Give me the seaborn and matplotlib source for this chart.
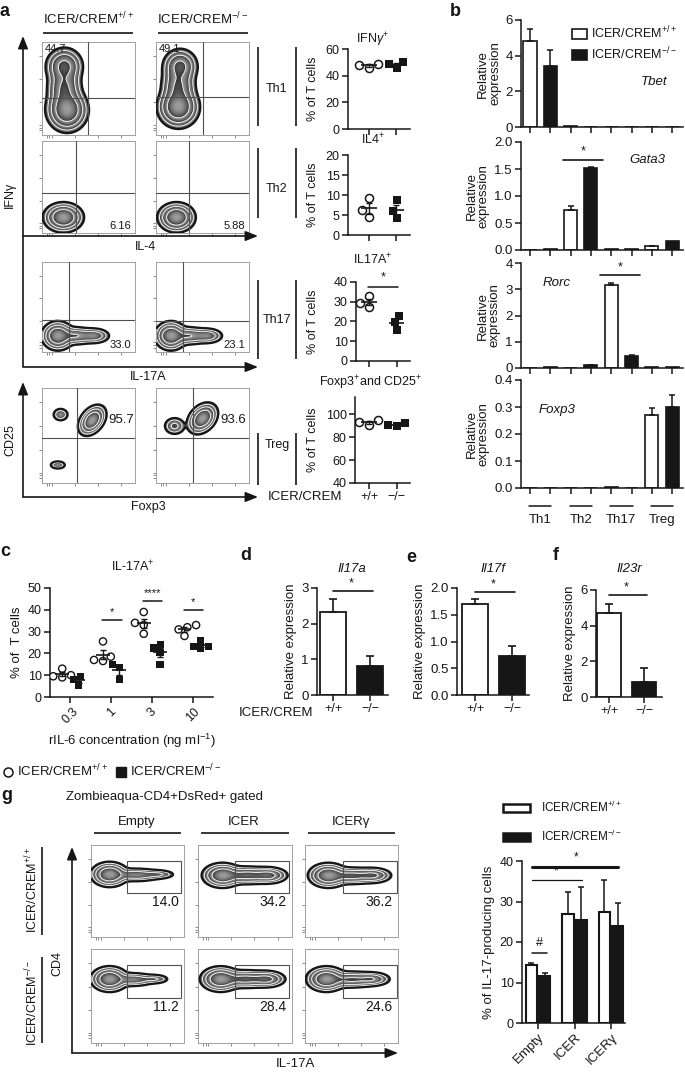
import numpy as np
import pandas as pd
import matplotlib
matplotlib.use("Agg")
import matplotlib.pyplot as plt
import seaborn as sns
from matplotlib.lines import Line2D
from matplotlib.patches import FancyArrowPatch, Rectangle, Patch

# ======================= DATA =======================
genotypes = ["+/+", "\u2212/\u2212"]

# panel a: dot plots (% of T cells)
a_ifng_wt = [48, 46, 49]
a_ifng_ko = [49, 46, 50]
a_il4_wt = [9.2, 6.2, 4.5]
a_il4_ko = [8.7, 6.0, 4.2]
a_il17_wt = [33, 27.5, 29.5]
a_il17_ko = [23, 15.5, 19.5]
a_treg_wt = [95, 93, 91]
a_treg_ko = [92, 90, 91]

# panel a: flow populations (cx, cy, sx, sy, weight, angle) in plot fractions
a_th1_wt = [(0.27, 0.27, 0.085, 0.09, 1.0, 0), (0.24, 0.50, 0.075, 0.11, 0.45, 0), (0.24, 0.74, 0.08, 0.08, 0.5, 0)]
a_th1_ko = [(0.24, 0.30, 0.085, 0.085, 1.0, 0), (0.24, 0.52, 0.075, 0.11, 0.45, 0), (0.26, 0.74, 0.075, 0.075, 0.5, 0)]
a_th2_wt = [(0.23, 0.17, 0.08, 0.06, 1.0, 0)]
a_th2_ko = [(0.22, 0.17, 0.075, 0.06, 1.0, 0)]
a_th17_wt = [(0.17, 0.18, 0.065, 0.06, 1.0, 0), (0.36, 0.18, 0.09, 0.04, 0.4, 0), (0.56, 0.18, 0.07, 0.035, 0.3, 0)]
a_th17_ko = [(0.16, 0.18, 0.065, 0.06, 1.0, 0), (0.35, 0.18, 0.09, 0.04, 0.4, 0), (0.55, 0.18, 0.07, 0.035, 0.3, 0)]
a_treg_wt_pop = [(0.54, 0.66, 0.068, 0.045, 1.0, 50), (0.20, 0.72, 0.04, 0.032, 0.12, 0), (0.17, 0.19, 0.04, 0.02, 0.12, 0)]
a_treg_ko_pop = [(0.50, 0.68, 0.07, 0.05, 1.0, 45), (0.20, 0.60, 0.05, 0.04, 0.18, 0)]
a_flow_numbers = ["44.7", "49.1", "6.16", "5.88", "33.0", "23.1", "95.7", "93.6"]

# panel b: relative expression
b_cells = ["Th1", "Th2", "Th17", "Treg"]
b_genes = ["Tbet", "Gata3", "Rorc", "Foxp3"]
b_tbet_wt, b_tbet_ko = [4.8, 0.05, 0.0, 0.0], [3.4, 0.02, 0.0, 0.0]
b_tbet_wt_err, b_tbet_ko_err = [0.7, 0, 0, 0], [0.9, 0, 0, 0]
b_gata3_wt, b_gata3_ko = [0.0, 0.75, 0.01, 0.07], [0.01, 1.52, 0.02, 0.17]
b_gata3_wt_err, b_gata3_ko_err = [0, 0.07, 0, 0.01], [0, 0.01, 0, 0]
b_rorc_wt, b_rorc_ko = [0.0, 0.0, 3.15, 0.05], [0.03, 0.1, 0.47, 0.05]
b_rorc_wt_err, b_rorc_ko_err = [0, 0, 0.1, 0], [0, 0.01, 0.03, 0]
b_foxp3_wt, b_foxp3_ko = [0.0, 0.0, 0.005, 0.27], [0.0, 0.0, 0.0, 0.30]
b_foxp3_wt_err, b_foxp3_ko_err = [0, 0, 0, 0.025], [0, 0, 0, 0.045]

# panel c
c_conc = ["0.3", "1", "3", "10"]
c_wt = [[10, 9, 9.5, 13], [25.5, 17, 18.5, 16.5], [39, 33, 29, 34], [33, 28, 31, 32]]
c_ko = [[9.5, 5.5, 8], [15, 8, 13.5], [24, 15, 20.5, 22.5], [26, 23, 22.5, 23]]
c_sig = ["*", "****", "*"]

# panels d, e, f
d_vals, d_errs = [2.33, 0.8], [0.35, 0.3]
e_vals, e_errs = [1.71, 0.73], [0.09, 0.18]
f_vals, f_errs = [4.7, 0.85], [0.5, 0.75]

# panel g flow
g_cols = ["Empty", "ICER", "ICER\u03b3"]
g_wt_pops = [
    [(0.20, 0.68, 0.075, 0.05, 1.0, 0), (0.48, 0.675, 0.12, 0.03, 0.3, 0), (0.72, 0.68, 0.08, 0.022, 0.15, 0)],
    [(0.26, 0.67, 0.08, 0.05, 1.0, 0), (0.52, 0.67, 0.12, 0.038, 0.6, 0), (0.75, 0.67, 0.08, 0.035, 0.55, 0)],
    [(0.25, 0.67, 0.08, 0.05, 1.0, 0), (0.50, 0.665, 0.12, 0.036, 0.55, 0), (0.73, 0.67, 0.08, 0.033, 0.45, 0)],
]
g_ko_pops = [
    [(0.20, 0.68, 0.075, 0.05, 1.0, 0), (0.45, 0.675, 0.10, 0.03, 0.3, 0), (0.68, 0.68, 0.07, 0.022, 0.15, 0)],
    [(0.24, 0.68, 0.08, 0.05, 1.0, 0), (0.50, 0.68, 0.12, 0.038, 0.55, 0), (0.73, 0.68, 0.08, 0.035, 0.5, 0)],
    [(0.23, 0.68, 0.08, 0.05, 1.0, 0), (0.50, 0.675, 0.12, 0.035, 0.45, 0), (0.72, 0.68, 0.08, 0.03, 0.35, 0)],
]
g_wt_numbers = ["14.0", "34.2", "36.2"]
g_ko_numbers = ["11.2", "28.4", "24.6"]

# panel g bars
g_wt_vals, g_wt_errs = [14.3, 26.8, 27.4], [0.6, 5.5, 7.9]
g_ko_vals, g_ko_errs = [11.6, 25.5, 24.0], [0.8, 8.1, 5.7]

# ======================= STYLE =======================
sns.set_theme(style="ticks")
plt.rcParams["font.family"] = ["Liberation Sans", "DejaVu Sans"]
INK = "#161616"
plt.rcParams.update({
    "mathtext.fontset": "custom",
    "mathtext.rm": "Liberation Sans",
    "mathtext.it": "Liberation Sans:italic",
    "mathtext.bf": "Liberation Sans:bold",
    "axes.linewidth": 1.1, "axes.edgecolor": INK,
    "xtick.color": INK, "ytick.color": INK,
    "xtick.major.width": 1.1, "ytick.major.width": 1.1,
    "xtick.major.size": 4, "ytick.major.size": 4,
    "xtick.major.pad": 2, "ytick.major.pad": 2,
    "font.size": 9, "xtick.labelsize": 9, "ytick.labelsize": 9,
    "text.color": INK, "axes.labelcolor": INK, "axes.labelsize": 9,
})

W, H = 685, 1073
fig = plt.figure(figsize=(W / 100, H / 100), dpi=100)
fig.patch.set_facecolor("white")


def ax_px(x0, y0, x1, y1):
    return fig.add_axes([x0 / W, 1 - y1 / H, (x1 - x0) / W, (y1 - y0) / H])


def ftext(x, y, s, **kw):
    kw.setdefault("ha", "center")
    kw.setdefault("va", "center")
    return fig.text(x / W, 1 - y / H, s, **kw)


def fline(x0, y0, x1, y1, lw=1.2, color=INK):
    fig.add_artist(Line2D([x0 / W, x1 / W], [1 - y0 / H, 1 - y1 / H], lw=lw, color=color,
                          transform=fig.transFigure, solid_capstyle="butt"))


def farrow(x0, y0, x1, y1):
    fig.add_artist(FancyArrowPatch((x0 / W, 1 - y0 / H), (x1 / W, 1 - y1 / H), transform=fig.transFigure,
                                   arrowstyle="-|>,head_length=0.75,head_width=0.3", mutation_scale=10,
                                   lw=1.2, color=INK, shrinkA=0, shrinkB=0))


GRID = np.linspace(0, 1, 240)
GX, GY = np.meshgrid(GRID, GRID)


def density(pops):
    Z = np.zeros_like(GX)
    for cx, cy, sx, sy, w, ang in pops:
        t = np.deg2rad(ang)
        dx, dy = GX - cx, GY - cy
        u = dx * np.cos(t) + dy * np.sin(t)
        v = -dx * np.sin(t) + dy * np.cos(t)
        Z += w * np.exp(-0.5 * ((u / sx) ** 2 + (v / sy) ** 2))
    return Z / Z.max()


def flow(box, pops, qx=None, qy=None, gate=None):
    ax = ax_px(*box)
    Z = density(pops)
    thr, nb = 0.02, 4
    L = np.log(np.clip(Z, thr, None) / thr) / np.log(1 / thr) * nb
    shade = L - np.floor(L)
    img = np.ma.masked_where(Z < thr, 0.2 + 0.42 * shade)
    ax.imshow(img, extent=[0, 1, 0, 1], origin="lower", cmap="gray", vmin=0, vmax=1,
              interpolation="bilinear", aspect="auto", zorder=1)
    inner = [thr * (1 / thr) ** (k / nb) for k in range(1, nb)]
    ax.contour(GX, GY, Z, levels=inner, colors="white", linewidths=0.6, zorder=2)
    ax.contour(GX, GY, Z, levels=[thr], colors=INK, linewidths=1.6, zorder=3)
    if qx is not None:
        ax.axvline(qx, color="#505050", lw=0.8, zorder=4)
    if qy is not None:
        ax.axhline(qy, color="#505050", lw=0.8, zorder=4)
    if gate is not None:
        ax.add_patch(Rectangle((gate[0], gate[1]), gate[2] - gate[0], gate[3] - gate[1], fill=False,
                               ec="#505050", lw=0.8, zorder=4))
    ax.set_xlim(0, 1)
    ax.set_ylim(0, 1)
    for s in ax.spines.values():
        s.set_color("#a0a0a0")
        s.set_linewidth(0.7)
    ticks = [0.05, 0.08, 0.11, 0.35, 0.6, 0.85]
    ax.set_xticks(ticks)
    ax.set_yticks(ticks)
    ax.tick_params(length=2, width=0.6, color="#777777", labelbottom=False, labelleft=False)
    return ax


def summary(ax, x, vals, half=0.28):
    m = np.mean(vals)
    s = np.std(vals, ddof=1) / np.sqrt(len(vals))
    ax.hlines(m, x - half, x + half, color=INK, lw=1.2, zorder=6)
    ax.errorbar([x], [m], yerr=[s], fmt="none", ecolor=INK, elinewidth=1.0, capsize=2.5, capthick=1.0, zorder=6)


# ======================= PANEL A =======================
ftext(5, 12, "a", fontsize=13, fontweight="bold")
ftext(88, 19, r"ICER/CREM$^{+/+}$", fontsize=9.5)
ftext(203, 19, r"ICER/CREM$^{-/-}$", fontsize=9.5)
fline(43, 33, 133, 33)
fline(158, 33, 248, 33)

rows_y = [(42, 135), (141, 233), (262, 352), (388, 483)]
cols_x = [(42, 135), (156, 249)]
a_pops = [(a_th1_wt, a_th1_ko), (a_th2_wt, a_th2_ko), (a_th17_wt, a_th17_ko), (a_treg_wt_pop, a_treg_ko_pop)]
a_q = [((0.49, 0.40), (0.505, 0.41)), ((0.37, 0.43), (0.355, 0.43)),
       ((0.29, 0.355), (0.29, 0.35)), ((0.38, 0.47), (0.40, 0.47))]
for r, (y0, y1) in enumerate(rows_y):
    for c, (x0, x1) in enumerate(cols_x):
        ax = flow((x0, y0, x1, y1), a_pops[r][c], qx=a_q[r][c][0], qy=a_q[r][c][1])
        num = a_flow_numbers[2 * r + c]
        if r == 0:
            ax.text(0.03, 0.93, num, fontsize=8, ha="left", va="center", transform=ax.transAxes, zorder=7)
        elif r in (1, 2):
            ax.text(0.96, 0.08, num, fontsize=8, ha="right", va="center", transform=ax.transAxes, zorder=7)
        else:
            ax.text(0.71 if c == 0 else 0.69, 0.66, num, fontsize=9.5, ha="left", va="center",
                    transform=ax.transAxes, zorder=7)

# axes arrows
fline(23, 367, 23, 236)
farrow(23, 236, 23, 36)
farrow(23, 236, 258, 236)
farrow(23, 367, 258, 367)
farrow(23, 497, 23, 382)
farrow(23, 497, 258, 497)
ftext(145, 247, "IL-4", fontsize=9)
ftext(148, 377, "IL-17A", fontsize=9)
ftext(148, 507, "Foxp3", fontsize=9)
ftext(10, 195, "IFN\u03b3", fontsize=9, rotation=90)
ftext(10, 440, "CD25", fontsize=9, rotation=90)

# group brackets
for (ya, yb, lab, yt) in [(47, 126, "Th1", 89), (148, 218, "Th2", 189), (280, 359, "Th17", 320), (433, 485, "Treg", 445)]:
    fline(258, ya, 258, yb, lw=1.2)
    fline(296, ya, 296, yb, lw=1.2)
    ftext(277, yt, lab, fontsize=9)

# dot plots
dot_specs = [
    ((348, 49, 410, 129), a_ifng_wt, a_ifng_ko, (0, 60), [0, 20, 40, 60], r"IFN$\gamma^{+}$", 40),
    ((348, 155, 410, 235), a_il4_wt, a_il4_ko, (0, 20), [0, 5, 10, 15, 20], r"IL4$^{+}$", 140),
    ((356, 282, 410, 361), a_il17_wt, a_il17_ko, (0, 40), [0, 10, 20, 30, 40], r"IL17A$^{+}$", 260),
    ((355, 397, 410, 483), a_treg_wt, a_treg_ko, (40, 115), [40, 60, 80, 100], r"Foxp3$^{+}$and CD25$^{+}$", 383),
]
for i, (box, wt, ko, ylim, yt, title, ty) in enumerate(dot_specs):
    ax = ax_px(*box)
    sns.swarmplot(x=[genotypes[0]] * len(wt), y=wt, order=genotypes, color="white", edgecolor=INK,
                  linewidth=1.1, marker="o", size=5.8, ax=ax, zorder=3)
    sns.swarmplot(x=[genotypes[1]] * len(ko), y=ko, order=genotypes, color=INK, marker="s",
                  size=5.8, linewidth=0, ax=ax, zorder=3)
    summary(ax, 0, wt)
    summary(ax, 1, ko)
    sns.despine(ax=ax)
    ax.set_ylim(*ylim)
    ax.set_yticks(yt)
    ax.set_xlim(-(369 - box[0]) / 27.5, (box[2] - 369) / 27.5)
    ax.set_xticks([0, 1])
    ax.set_xticklabels(genotypes if i == 3 else ["", ""], fontsize=9)
    ax.set_xlabel("")
    ax.set_ylabel("")
    ftext(313, (box[1] + box[3]) / 2, "% of T cells", fontsize=9, rotation=90)
    ftext(373 if i < 3 else 371, ty, title, fontsize=9)
    if i == 2:
        ax.plot([-0.05, 1.05], [37.5, 37.5], color=INK, lw=1.1, clip_on=False)
        ax.text(0.5, 39.2, "*", ha="center", va="bottom", fontsize=9, clip_on=False)
ftext(305, 497, "ICER/CREM", fontsize=9.5)

# ======================= PANEL B =======================
ftext(455, 12, "b", fontsize=13, fontweight="bold")
b_data = [(b_tbet_wt, b_tbet_ko, b_tbet_wt_err, b_tbet_ko_err),
          (b_gata3_wt, b_gata3_ko, b_gata3_wt_err, b_gata3_ko_err),
          (b_rorc_wt, b_rorc_ko, b_rorc_wt_err, b_rorc_ko_err),
          (b_foxp3_wt, b_foxp3_ko, b_foxp3_wt_err, b_foxp3_ko_err)]
b_boxes = [(521, 20, 683, 127), (521, 142, 683, 250), (521, 263, 683, 368), (521, 380, 683, 488)]
b_ylims = [(0, 6), (0, 2.0), (0, 4), (0, 0.4)]
b_yticks = [[0, 2, 4, 6], [0, 0.5, 1.0, 1.5, 2.0], [0, 1, 2, 3, 4], [0, 0.1, 0.2, 0.3, 0.4]]
b_fmt = ["{:.0f}", "{:.1f}", "{:.0f}", "{:.1f}"]
b_gene_pos = [(0.82, 0.42), (0.78, 0.83), (0.22, 0.81), (0.22, 0.72)]
b_order = [f"{c}|{g}" for c in b_cells for g in ("WT", "KO")]
for k, ((wt, ko, we, ke), box) in enumerate(zip(b_data, b_boxes)):
    ax = ax_px(*box)
    vals = np.ravel(np.column_stack([wt, ko]))
    errs = np.ravel(np.column_stack([we, ke]))
    df = pd.DataFrame({"cat": b_order, "v": vals, "geno": ["WT", "KO"] * 4})
    sns.barplot(data=df, x="cat", y="v", hue="geno", order=b_order, hue_order=["WT", "KO"],
                palette={"WT": "white", "KO": INK}, edgecolor=INK, linewidth=1.2, width=0.65,
                dodge=False, errorbar=None, legend=False, ax=ax)
    xs = np.arange(8)
    m = errs > 0
    ax.errorbar(xs[m], vals[m], yerr=[np.zeros(m.sum()), errs[m]], fmt="none", ecolor=INK,
                elinewidth=1.1, capsize=2.5, capthick=1.1, zorder=1)
    sns.despine(ax=ax)
    ax.set_ylim(*b_ylims[k])
    ax.set_yticks(b_yticks[k])
    ax.set_yticklabels([b_fmt[k].format(t) for t in b_yticks[k]], fontsize=9.5)
    ax.set_xlim(-(530 - 521) / 20.3, (683 - 530) / 20.3)
    ax.set_xticks(xs)
    ax.set_xticklabels([""] * 8)
    ax.set_xlabel("")
    ax.set_ylabel("Relative\nexpression", fontsize=9.5, labelpad=3, linespacing=1.0)
    ax.text(b_gene_pos[k][0], b_gene_pos[k][1], b_genes[k], transform=ax.transAxes, fontsize=9.5,
            fontstyle="italic", ha="center", va="center")
    if k == 1:
        ax.plot([1.63, 3.6], [1.67, 1.67], color=INK, lw=1.2)
        ax.text(2.6, 1.72, "*", ha="center", va="bottom", fontsize=9)
    if k == 2:
        ax.plot([3.45, 5.42], [3.54, 3.54], color=INK, lw=1.2)
        ax.text(4.45, 3.6, "*", ha="center", va="bottom", fontsize=9)
    if k == 3:
        tr = ax.get_xaxis_transform()
        for j, c in enumerate(b_cells):
            ax.plot([2 * j - 0.05, 2 * j + 1.05], [-0.165, -0.165], color=INK, lw=1.1, transform=tr, clip_on=False)
            ax.text(2 * j + 0.5, -0.30, c, transform=tr, ha="center", va="center", fontsize=9.5)

b_handles = [Patch(facecolor="white", edgecolor=INK, lw=1.2), Patch(facecolor=INK, edgecolor=INK, lw=1.2)]
fig.legend(b_handles, [r"ICER/CREM$^{+/+}$", r"ICER/CREM$^{-/-}$"], loc="upper left",
           bbox_to_anchor=(572 / W, 1 - 25 / H), frameon=False, fontsize=9, borderpad=0, borderaxespad=0,
           handlelength=1.2, handleheight=0.85, handletextpad=0.3, labelspacing=0.3)

# ======================= PANEL C =======================
ftext(5, 551, "c", fontsize=13, fontweight="bold")
ftext(133, 567, r"IL-17A$^{+}$", fontsize=9)
ax = ax_px(50, 588, 213, 697)
rows_wt = [(c, "WT", v) for c, vals in zip(c_conc, c_wt) for v in vals]
rows_ko = [(c, "KO", v) for c, vals in zip(c_conc, c_ko) for v in vals]
df_wt = pd.DataFrame(rows_wt, columns=["conc", "geno", "v"])
df_ko = pd.DataFrame(rows_ko, columns=["conc", "geno", "v"])
sns.swarmplot(data=df_wt, x="conc", y="v", hue="geno", order=c_conc, hue_order=["WT", "KO"], dodge=True,
              palette={"WT": "white", "KO": INK}, edgecolor=INK, linewidth=1.0, marker="o", size=5.2,
              legend=False, ax=ax, zorder=3)
sns.swarmplot(data=df_ko, x="conc", y="v", hue="geno", order=c_conc, hue_order=["WT", "KO"], dodge=True,
              palette={"WT": "white", "KO": INK}, marker="s", size=5.2, linewidth=0,
              legend=False, ax=ax, zorder=3)
for i in range(4):
    summary(ax, i - 0.2, c_wt[i], half=0.17)
    summary(ax, i + 0.2, c_ko[i], half=0.17)
for i, sy, lab in [(1, 35.3, "*"), (2, 44.0, "****"), (3, 40.0, "*")]:
    ax.plot([i - 0.22, i + 0.26], [sy, sy], color=INK, lw=1.1, clip_on=False)
    ax.text(i + 0.02, sy + 1.2, lab, ha="center", va="bottom", fontsize=8, clip_on=False)
sns.despine(ax=ax)
ax.set_ylim(0, 50)
ax.set_yticks([0, 10, 20, 30, 40, 50])
ax.set_xlim(-0.5, 3.5)
ax.set_xticks(range(4))
ax.set_xticklabels(c_conc, rotation=45, ha="center")
ax.set_xlabel("rIL-6 concentration (ng ml$^{-1}$)", fontsize=9.5, labelpad=4)
ax.set_ylabel("% of  T cells", fontsize=9.5, labelpad=3)
c_handles = [Line2D([], [], marker="o", ls="", mfc="white", mec=INK, mew=1.1, ms=6.5),
             Line2D([], [], marker="s", ls="", mfc=INK, mec=INK, ms=6.5)]
fig.legend(c_handles, [r"ICER/CREM$^{+/+}$", r"ICER/CREM$^{-/-}$"], loc="center left",
           bbox_to_anchor=(2 / W, 1 - 771 / H), frameon=False, fontsize=9.5, ncol=2, borderpad=0,
           borderaxespad=0, handlelength=0.9, handletextpad=0.25, columnspacing=0.5)

# ======================= PANELS D, E, F =======================
def bar_pair(box, vals, errs, ylim, yticks, fmt, cx0, spacing, title, tx, sig_y, star_y):
    ax = ax_px(*box)
    df = pd.DataFrame({"geno": genotypes, "v": vals})
    sns.barplot(data=df, x="geno", y="v", hue="geno", order=genotypes, hue_order=genotypes,
                palette=["white", INK], edgecolor=INK, linewidth=1.3, width=0.68, dodge=False,
                errorbar=None, legend=False, ax=ax)
    ax.errorbar([0, 1], vals, yerr=[[0, 0], errs], fmt="none", ecolor=INK, elinewidth=1.2,
                capsize=3, capthick=1.2, zorder=1)
    sns.despine(ax=ax)
    ax.set_ylim(*ylim)
    ax.set_yticks(yticks)
    ax.set_yticklabels([fmt.format(t) for t in yticks], fontsize=9.5)
    ax.set_xlim(-(cx0 - box[0]) / spacing, (box[2] - cx0) / spacing)
    ax.set_xticks([0, 1])
    ax.set_xticklabels(genotypes, fontsize=9)
    ax.set_xlabel("")
    ax.set_ylabel("Relative expression", fontsize=9.5, labelpad=3)
    ax.plot([0, 1.08], [sig_y, sig_y], color=INK, lw=1.2, clip_on=False)
    ax.text(0.5, star_y, "*", ha="center", va="bottom", fontsize=9, clip_on=False)
    ftext(tx, 569, title, fontsize=9.5, fontstyle="italic")
    return ax


ftext(246, 555, "d", fontsize=13, fontweight="bold")
bar_pair((317, 588, 388, 695), d_vals, d_errs, (0, 3), [0, 1, 2, 3], "{:.0f}", 333, 37, "Il17a", 352, 2.92, 2.97)
ftext(276, 713, "ICER/CREM", fontsize=9.5)
ftext(411, 558, "e", fontsize=13, fontweight="bold")
bar_pair((457, 588, 529, 695), e_vals, e_errs, (0, 2.0), [0, 0.5, 1.0, 1.5, 2.0], "{:.1f}", 475, 37, "Il17f", 493, 1.93, 1.96)
ftext(556, 556, "f", fontsize=13, fontweight="bold")
bar_pair((596, 590, 662, 697), f_vals, f_errs, (0, 6), [0, 2, 4, 6], "{:.0f}", 609, 35, "Il23r", 629, 5.72, 5.8)

# ======================= PANEL G (flow) =======================
ftext(7, 796, "g", fontsize=13, fontweight="bold")
ftext(164, 797, "Zombieaqua-CD4+DsRed+ gated", fontsize=9.5)
g_cols_x = [(91, 184), (198, 292), (305, 398)]
g_rows_y = [(845, 937), (949, 1043)]
g_gates = [(0.39, 0.48, 0.97, 0.83), (0.39, 0.48, 0.97, 0.83), (0.41, 0.48, 0.99, 0.83)]
for c, (x0, x1) in enumerate(g_cols_x):
    ftext((x0 + x1) / 2 - 1, 822, g_cols[c], fontsize=9.5)
    fline(x0 + 3, 833, x1 - 3, 833)
    for r, (y0, y1) in enumerate(g_rows_y):
        pops = g_wt_pops[c] if r == 0 else g_ko_pops[c]
        ax = flow((x0, y0, x1, y1), pops, gate=g_gates[c])
        num = g_wt_numbers[c] if r == 0 else g_ko_numbers[c]
        ax.text(0.94, 0.38, num, ha="right", va="center", fontsize=10, transform=ax.transAxes, zorder=7)
ftext(32, 890, r"ICER/CREM$^{+/+}$", fontsize=9, rotation=90)
ftext(32, 1003, r"ICER/CREM$^{-/-}$", fontsize=9, rotation=90)
fline(42, 847, 42, 935)
fline(42, 957, 42, 1043)
ftext(57, 963, "CD4", fontsize=9, rotation=90)
farrow(72, 1053, 72, 847)
farrow(72, 1053, 398, 1053)
ftext(295, 1064, "IL-17A", fontsize=9.5)

# ======================= PANEL G (bars) =======================
ax = ax_px(522, 861, 625, 1023)
rows = [(g, "WT", v) for g, v in zip(g_cols, g_wt_vals)] + [(g, "KO", v) for g, v in zip(g_cols, g_ko_vals)]
dfg = pd.DataFrame(rows, columns=["grp", "geno", "v"])
sns.barplot(data=dfg, x="grp", y="v", hue="geno", order=g_cols, hue_order=["WT", "KO"],
            palette={"WT": "white", "KO": INK}, edgecolor=INK, linewidth=1.5, width=0.72, gap=0.12,
            errorbar=None, legend=False, ax=ax)
xs = np.arange(3)
ax.errorbar(xs - 0.18, g_wt_vals, yerr=[np.zeros(3), g_wt_errs], fmt="none", ecolor=INK, elinewidth=1.1,
            capsize=2.5, capthick=1.1, zorder=1)
ax.errorbar(xs + 0.18, g_ko_vals, yerr=[np.zeros(3), g_ko_errs], fmt="none", ecolor=INK, elinewidth=1.1,
            capsize=2.5, capthick=1.1, zorder=1)
ax.plot([-0.17, 0.25], [17.3, 17.3], color=INK, lw=1.1)
ax.text(0.04, 18.3, "#", ha="center", va="bottom", fontsize=9)
ax.plot([-0.17, 1.2], [35.3, 35.3], color=INK, lw=0.9, clip_on=False)
ax.text(0.5, 36.0, "*", ha="center", va="bottom", fontsize=8.5, clip_on=False)
ax.plot([-0.17, 2.19], [38.5, 38.5], color=INK, lw=2.2, clip_on=False)
ax.text(1.05, 39.3, "*", ha="center", va="bottom", fontsize=8.5, clip_on=False)
sns.despine(ax=ax)
ax.set_ylim(0, 40)
ax.set_yticks([0, 10, 20, 30, 40])
ax.set_xlim(-(538 - 522) / 36.5, (625 - 538) / 36.5)
ax.set_xticks(xs)
ax.set_xticklabels(g_cols, rotation=45, ha="right", rotation_mode="anchor", fontsize=9.5)
ax.set_xlabel("")
ax.set_ylabel("% of IL-17-producing cells", fontsize=9.5, labelpad=3)
g_handles = [Patch(facecolor="white", edgecolor=INK, lw=1.8), Patch(facecolor=INK, edgecolor=INK, lw=1.8)]
fig.legend(g_handles, [r"ICER/CREM$^{+/+}$", r"ICER/CREM$^{-/-}$"], loc="upper left",
           bbox_to_anchor=(503 / W, 1 - 800 / H), frameon=False, fontsize=8.5, borderpad=0, borderaxespad=0,
           handlelength=2.3, handleheight=0.65, handletextpad=0.9, labelspacing=1.15)

fig.savefig("out.png", dpi=100, facecolor="white")
